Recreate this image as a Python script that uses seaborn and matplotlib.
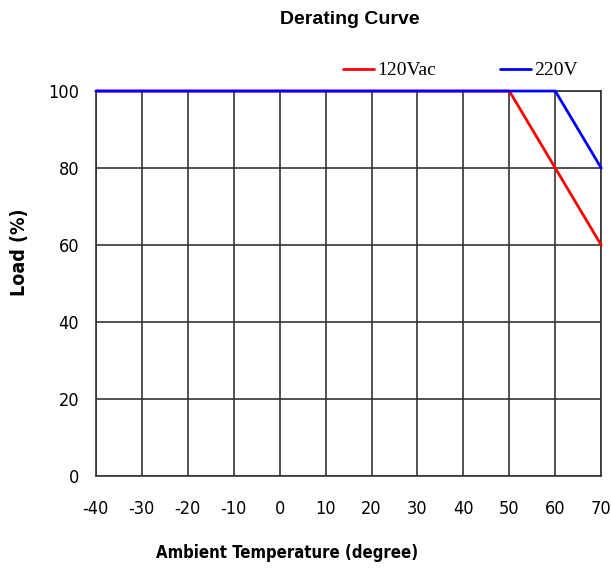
import seaborn as sns
import pandas as pd
import matplotlib.pyplot as plt

sns.set_style("white")
plt.rcParams['font.family'] = ['DejaVu Sans']
plt.rcParams['font.stretch'] = 'condensed'
plt.rcParams['axes.unicode_minus'] = False
plt.rcParams['text.color'] = 'black'
plt.rcParams['xtick.color'] = 'black'
plt.rcParams['ytick.color'] = 'black'

# derating points (ambient temperature, load %)
temp_120 = [-40, 50, 70]
load_120 = [100, 100, 60]
temp_220 = [-40, 60, 70]
load_220 = [100, 100, 80]
series = ["120Vac", "220V"]
colors = ["#ff0000", "#0000ff"]

df = pd.concat([
    pd.DataFrame({"Temp": temp_120, "Load": load_120, "Input": series[0]}),
    pd.DataFrame({"Temp": temp_220, "Load": load_220, "Input": series[1]}),
])

fig = plt.figure(figsize=(6.11, 5.69), dpi=100)
ax = fig.add_axes([0.157, 0.163, 0.827, 0.677])

sns.lineplot(data=df, x="Temp", y="Load", hue="Input", palette=colors,
             linewidth=2, ax=ax, sort=False, estimator=None, zorder=3)
for ln in ax.lines:
    ln.set_clip_on(False)

ax.set_xlim(-40, 70)
ax.set_ylim(0, 100)
ax.set_xticks(range(-40, 71, 10))
ax.set_yticks(range(0, 101, 20))
ax.grid(True, color="#333333", linewidth=1.2)
for s in ax.spines.values():
    s.set_color("#333333")
    s.set_linewidth(1.2)
ax.tick_params(axis="both", length=0, labelsize=13)
ax.tick_params(axis="x", pad=17)
ax.tick_params(axis="y", pad=12)

ax.set_xlabel("")
ax.set_ylabel("")
fig.text(287 / 611, 1 - 553 / 569, "Ambient Temperature (degree)", ha="center",
         va="center", fontsize=12, fontweight="bold")
fig.text(20 / 611, 1 - 252 / 569, "Load (%)", ha="center", va="center",
         rotation=90, fontsize=14, fontweight="bold")
fig.text(350 / 611, 1 - 20 / 569, "Derating Curve", ha="center", va="center",
         fontsize=14, fontweight="bold", family=['Liberation Sans', 'DejaVu Sans'],
         fontstretch='normal')

ax.legend(loc="lower right", bbox_to_anchor=(0.977, 1.0), ncol=2, frameon=False,
          prop={"family": "Liberation Serif", "size": 14}, handlelength=1.6,
          handletextpad=0.15, columnspacing=3.3, borderaxespad=0.2)

fig.savefig("out.png", dpi=100)
